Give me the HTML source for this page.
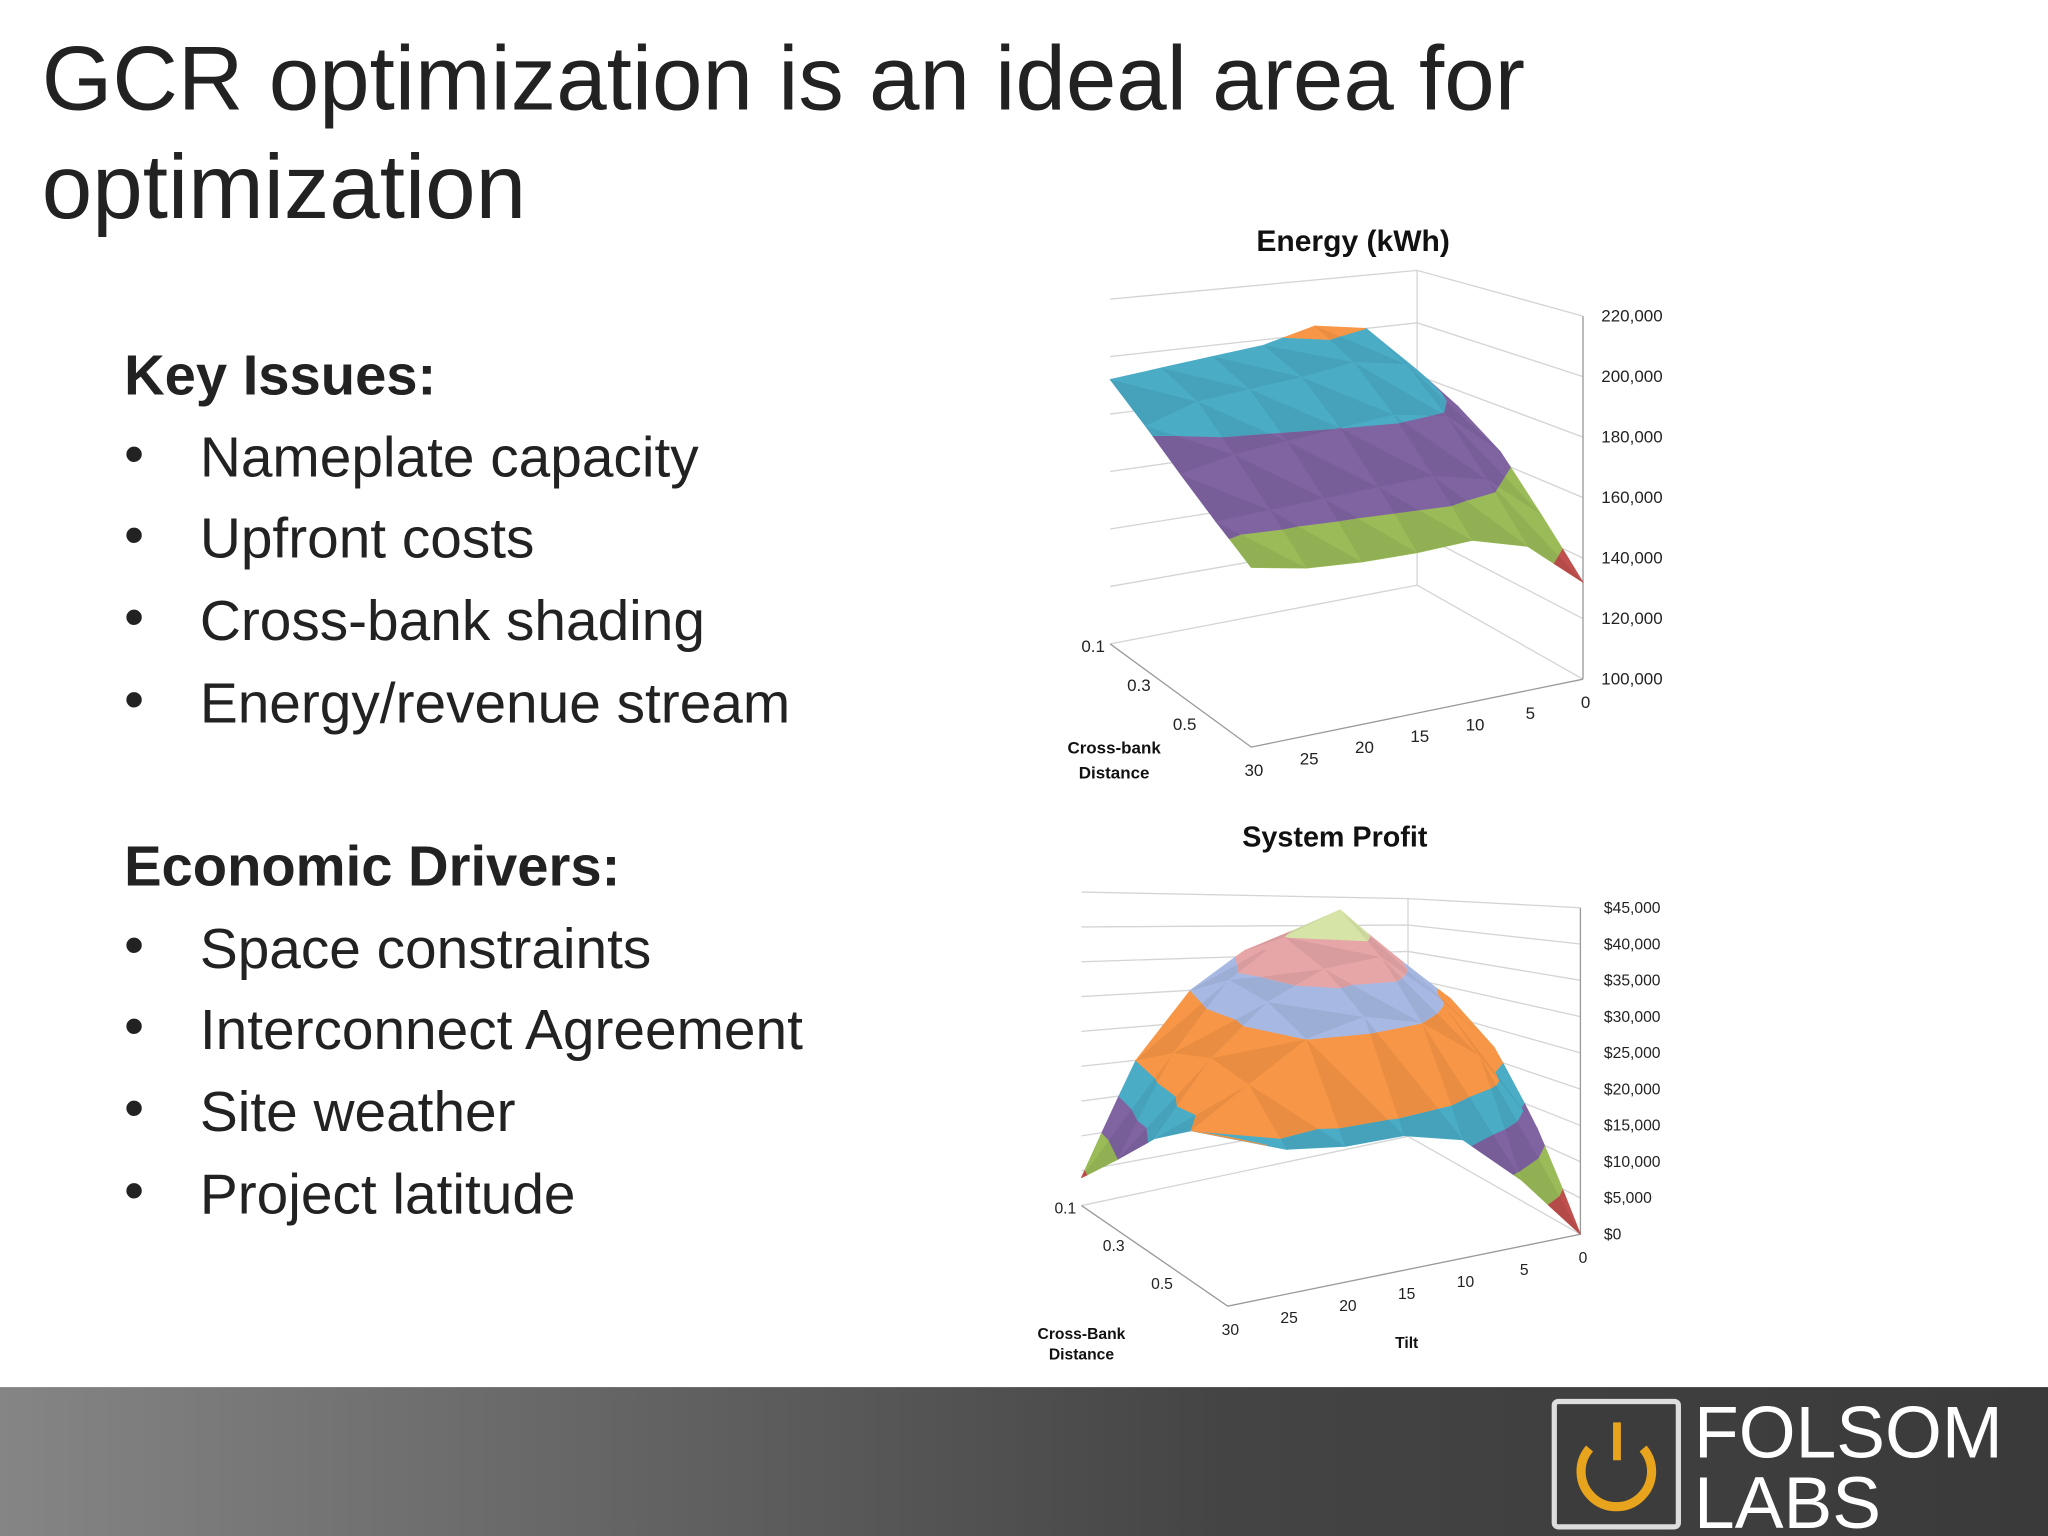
<!DOCTYPE html>
<html><head><meta charset="utf-8"><style>
html,body{margin:0;padding:0;background:#fff;width:2048px;height:1536px;overflow:hidden}
svg{display:block}
text{font-family:"Liberation Sans",sans-serif}
</style></head><body>
<svg id="s" width="2048" height="1536" viewBox="0 0 1568 1176" xmlns="http://www.w3.org/2000/svg">
<defs><linearGradient id="bar" x1="0" x2="1" y1="0" y2="0"><stop offset="0" stop-color="#858585"/><stop offset="0.6" stop-color="#444"/><stop offset="1" stop-color="#3a3a3a"/></linearGradient></defs>
<text x="32" y="84" font-size="69.5" fill="#222">GCR optimization is an ideal area for</text>
<text x="32" y="167" font-size="69.5" fill="#222">optimization</text>
<g font-size="43.5" fill="#222">
<text x="95" y="302" font-weight="bold" font-size="43">Key Issues:</text>
<text x="95" y="362">•</text><text x="153" y="365">Nameplate capacity</text>
<text x="95" y="424">•</text><text x="153" y="427">Upfront costs</text>
<text x="95" y="487">•</text><text x="153" y="490">Cross-bank shading</text>
<text x="95" y="550">•</text><text x="153" y="553">Energy/revenue stream</text>
<text x="95" y="678" font-weight="bold" font-size="43">Economic Drivers:</text>
<text x="95" y="738">•</text><text x="153" y="741">Space constraints</text>
<text x="95" y="800">•</text><text x="153" y="803">Interconnect Agreement</text>
<text x="95" y="863">•</text><text x="153" y="866">Site weather</text>
<text x="95" y="926">•</text><text x="153" y="929">Project latitude</text>
</g>
<g id="c1"></g>
<g id="c2"></g>
<text x="1036" y="192" font-size="23" font-weight="bold" text-anchor="middle" fill="#111">Energy (kWh)</text>
<text x="1022" y="648" font-size="22" font-weight="bold" text-anchor="middle" fill="#111">System Profit</text>
<text x="853" y="577" font-size="13" font-weight="bold" text-anchor="middle" fill="#111">Cross-bank</text>
<text x="853" y="596" font-size="13" font-weight="bold" text-anchor="middle" fill="#111">Distance</text>
<text x="828" y="1025" font-size="12" font-weight="bold" text-anchor="middle" fill="#111">Cross-Bank</text>
<text x="828" y="1041" font-size="12" font-weight="bold" text-anchor="middle" fill="#111">Distance</text>
<text x="1077" y="1032" font-size="12" font-weight="bold" text-anchor="middle" fill="#111">Tilt</text>
<rect x="0" y="1062" width="1568" height="114" fill="url(#bar)"/>
<g>
<rect x="1190" y="1073" width="95" height="96" rx="3" fill="#3c3c3c" stroke="#ddd" stroke-width="4"/>
<path d="M1217 1109 A27 27 0 1 0 1258 1109" fill="none" stroke="#e8a41c" stroke-width="7"/>
<line x1="1238" y1="1089" x2="1238" y2="1118" stroke="#e8a41c" stroke-width="6"/>
<text x="1297" y="1116" font-size="56" fill="#fff">FOLSOM</text>
<text x="1297" y="1170" font-size="56" fill="#fff">LABS</text>
</g>
</svg>
<script>
const NS="http://www.w3.org/2000/svg";
const tilts=[30,25,20,15,10,5,0];
const dists=[0.1,0.2,0.3,0.4,0.5];
// Energy (thousand kWh), rows by distance, cols by tilt
const energyRows=[[192,194,196,198,203,200,182],[182,188,190,192,195,192,174],[172,176,178,180,182,179,164],[163,164,165,166,167,163,148],[155,152,151,151,152,147,132]];
const energyTicks=[100,120,140,160,180,200,220];
const energyTickLabels=["100,000","120,000","140,000","160,000","180,000","200,000","220,000"];
const energyBands=[120,140,160,180,200];
const energyColors=["#c0504d","#c0504d","#9bbb59","#8064a2","#4bacc6","#f79646"];
// Profit ($ thousands)
const profitRows=[[4,20,30,36,36,30,26],[10,24,34,40,44,36,28],[16,26,33,37,38,31,22],[20,25,30,32,30,24,12],[22,19,18,18,16,9,0]];
const profitTicks=[0,5,10,15,20,25,30,35,40,45];
const profitTickLabels=["$0","$5,000","$10,000","$15,000","$20,000","$25,000","$30,000","$35,000","$40,000","$45,000"];
const profitBands=[5,10,15,20,30,35,40];
const profitColors=["#c0504d","#9bbb59","#8064a2","#4bacc6","#f79646","#a7b9e3","#e6a6a8","#d7e4a8"];
const tiltLabels=["30","25","20","15","10","5","0"];
const distLabels=["0.1","0.3","0.5"];

function mk(tag,at,parent){const e=document.createElementNS(NS,tag);for(const k in at)e.setAttribute(k,at[k]);parent.appendChild(e);return e;}
function lerp(a,b,u){return a+(b-a)*u;}
function chart(g,cfg,rows,ticks,tickLabels,bands,colors,nm){
  const P=(t,d,v)=>{
    const u=(30-t)/30, w=(d-0.1)/0.4;
    const bx=lerp(lerp(cfg.A[0],cfg.B[0],u),lerp(cfg.D[0],cfg.C[0],u),w);
    const by=lerp(lerp(cfg.A[1],cfg.B[1],u),lerp(cfg.D[1],cfg.C[1],u),w);
    const k=lerp(lerp(cfg.k[0],cfg.k[1],u),lerp(cfg.k[3],cfg.k[2],u),w);
    return [bx, by-(v-cfg.vmin)*k];
  };
  const vmin=ticks[0],vmax=ticks[ticks.length-1];
  ticks.forEach((v,i)=>{
    const a=P(30,0.1,v),b=P(0,0.1,v),c=P(0,0.5,v);
    const l=mk('polyline',{points:[a,b,c].map(p=>p.join(',')).join(' '),fill:'none',stroke:'#d4d4d4','stroke-width':1},g);
    
    
    const t=mk('text',{x:c[0]+cfg.lx,y:c[1]+4,'font-size':cfg.fs,fill:'#222'},g);t.textContent=tickLabels[i];
    
    
  });
  const top=P(0,0.1,vmax),bot=P(0,0.1,vmin);
  mk('line',{x1:top[0],y1:top[1],x2:bot[0],y2:bot[1],stroke:'#d4d4d4'},g);
  const ax=P(0,0.5,vmin),ay=P(0,0.5,vmax);
  mk('line',{x1:ax[0],y1:ax[1],x2:ay[0],y2:ay[1],stroke:'#999'},g);
  const f1=P(30,0.1,vmin),f2=P(30,0.5,vmin);
  mk('polyline',{points:[f1,f2,ax].map(p=>p.join(',')).join(' '),fill:'none',stroke:'#999'},g);
  tilts.forEach((t,i)=>{const p=P(t,0.5,vmin);const tx=mk('text',{x:p[0]+2,y:p[1]+22,'font-size':cfg.fs,fill:'#222','text-anchor':'middle'},g);tx.textContent=tiltLabels[i];
    });
  [0.1,0.3,0.5].forEach((d,i)=>{const p=P(30,d,vmin);const tx=mk('text',{x:p[0]-4-95*(d-0.1),y:p[1]+6-48*(d-0.1),'font-size':cfg.fs,fill:'#222','text-anchor':'end'},g);tx.textContent=distLabels[i];
    });
  const clip=(poly,f)=>{const out=[];for(let i=0;i<poly.length;i++){const a=poly[i],b=poly[(i+1)%poly.length];const fa=f(a[2]),fb=f(b[2]);
      if(fa>=0)out.push(a);
      if((fa>=0)!==(fb>=0)){const s=fa/(fa-fb);out.push([lerp(a[0],b[0],s),lerp(a[1],b[1],s),lerp(a[2],b[2],s)]);}}
    return out;};
  const edges=[-1e9].concat(bands).concat([1e9]);
  for(let r=0;r<rows.length-1;r++)for(let c=0;c<tilts.length-1;c++){
    const V=(cc,rr)=>[tilts[cc],dists[rr],rows[rr][cc]];
    const tris=[[V(c,r),V(c+1,r),V(c+1,r+1)],[V(c,r),V(c+1,r+1),V(c,r+1)]];
    tris.forEach((tri,ti)=>{
      for(let b=0;b<edges.length-1;b++){
        let p=clip(tri,v=>v-edges[b]);p=clip(p,v=>edges[b+1]-v);
        if(p.length<3)continue;
        const pts=p.map(q=>P(q[0],q[1],q[2]));
        const pg=mk('polygon',{points:pts.map(q=>q.join(',')).join(' '),fill:colors[b],stroke:colors[b],'stroke-width':0.6,'stroke-linejoin':'round'},g);
        
        
        if(ti===1){const sh=mk('polygon',{points:pts.map(q=>q.join(',')).join(' '),fill:'#000','fill-opacity':0.06},g);
          }
      }
    });
  }
}
chart(document.getElementById('c1'),{A:[850,493],B:[1085,448],C:[1212,520],D:[958,572],k:[264/120,241/120,278/120,300/120],vmin:100,fs:13,lx:14},energyRows,energyTicks,energyTickLabels,energyBands,energyColors,'energy');
chart(document.getElementById('c2'),{A:[828,923],B:[1078,870],C:[1210,945],D:[940,1000],k:[240/45,182/45,250/45,265/45],vmin:0,fs:12,lx:18},profitRows,profitTicks,profitTickLabels,profitBands,profitColors,'profit');
</script>
</body></html>
